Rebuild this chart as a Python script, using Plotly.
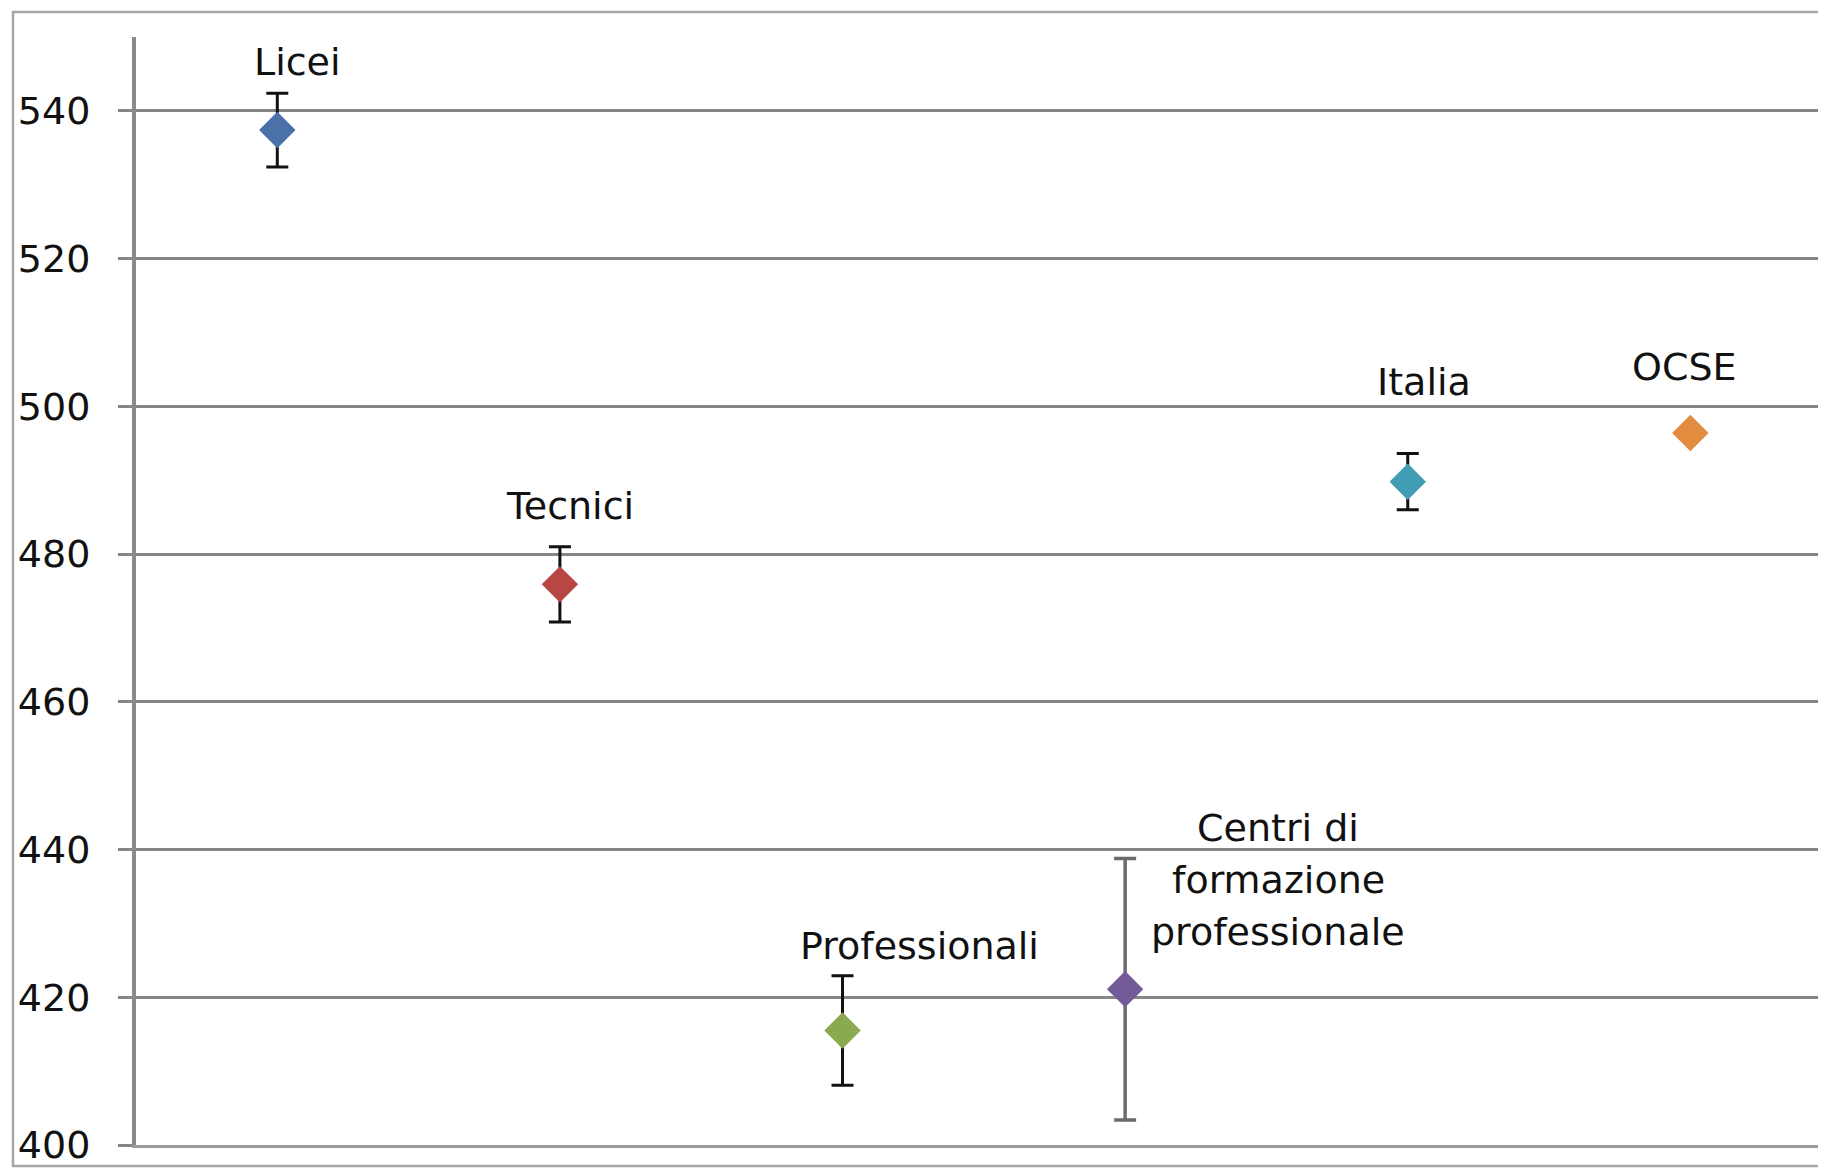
"""Punteggi medi per tipo di scuola con intervalli di errore."""

import plotly.graph_objects as go

# dati
categorie = ["Licei", "Tecnici", "Professionali", "Centri di formazione professionale", "Italia", "OCSE"]
etichette = ["Licei", "Tecnici", "Professionali", "Centri di<br>formazione<br>professionale", "Italia", "OCSE"]
punteggi = [537.4, 475.9, 415.5, 421.1, 489.8, 496.4]
errori = [5.0, 5.1, 7.4, 17.7, 3.8, 0]
y_ticks = [400, 420, 440, 460, 480, 500, 520, 540]

# stile
colori = ["#4A72A8", "#B84744", "#8AAA4F", "#735B99", "#419DB3", "#E38C3F"]
colori_err = ["#111111", "#111111", "#111111", "#6B6B6B", "#111111", "#111111"]
# spostamento etichette (px) rispetto al punto
label_shift = [(20, 68), (10, 78), (77, 85), (153, 109), (16, 100), (-6, 66)]
LINE_GAP = 52

FONT = "DejaVu Sans"
FS = 38
# la pagina ha un margine di 8 px: la figura parte da (8, 8)
OFF = 8
W, H = 1826 - OFF, 1168 - OFF
L, R, T, B = 136 - OFF, 0, 37 - OFF, 1168 - 1145

fig = go.Figure()
for i, cat in enumerate(categorie):
    fig.add_trace(go.Scatter(
        x=[i], y=[punteggi[i]], mode="markers", name=cat,
        marker=dict(symbol="diamond", size=28, color=colori[i], line=dict(width=0)),
        error_y=dict(type="data", array=[errori[i]], visible=errori[i] > 0,
                     color=colori_err[i], thickness=3.5 if i == 3 else 3,
                     width=11),
    ))
    dx, dy = label_shift[i]
    righe = etichette[i].split("<br>")
    mid = (len(righe) - 1) / 2
    for j, riga in enumerate(righe):
        fig.add_annotation(
            x=i, y=punteggi[i], text=riga, showarrow=False,
            xshift=dx, yshift=dy + (mid - j) * LINE_GAP, yanchor="middle",
            font=dict(family=FONT, size=FS, color="#111111"),
        )

# cornice esterna
pw, ph = W - L - R, H - T - B
fig.add_shape(
    type="rect", xref="paper", yref="paper",
    x0=(13 - OFF - L) / pw, x1=1.02,
    y0=(H - B - (1166 - OFF)) / ph, y1=(H - B - (12 - OFF)) / ph,
    line=dict(color="#A6A6A6", width=2.5), layer="below",
)

fig.update_layout(
    width=W, height=H,
    margin=dict(l=L, r=R, t=T, b=B),
    paper_bgcolor="white", plot_bgcolor="white",
    showlegend=False,
    font=dict(family=FONT, size=FS, color="#111111"),
)
fig.update_xaxes(
    range=[-0.5, 5.48], showticklabels=False, showgrid=False, zeroline=False,
    showline=True, linecolor="#9A9A9A", linewidth=3, ticks="",
)
fig.update_yaxes(
    range=[400, 550], tickvals=y_ticks, showgrid=True, gridcolor="#868686",
    gridwidth=2.5, zeroline=False, showline=True, linecolor="#8A8A8A",
    linewidth=4, ticks="outside", ticklen=14, tickcolor="#868686", tickwidth=2.5,
    ticklabelstandoff=20, tickfont=dict(family=FONT, size=FS, color="#111111"),
)

fig.write_html("out.html")
